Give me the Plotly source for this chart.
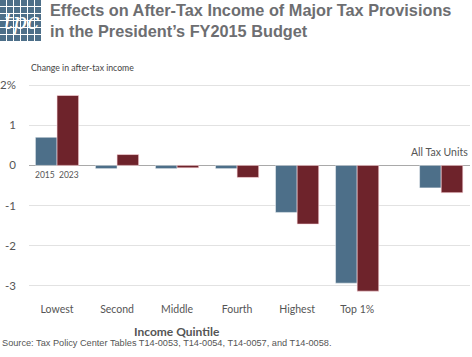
import plotly.graph_objects as go

categories = ["Lowest", "Second", "Middle", "Fourth", "Highest", "Top 1%", "All Tax Units"]
cat_pos = [0, 1, 2, 3, 4, 5, 6.4]
vals_2015 = [0.70, -0.08, -0.08, -0.08, -1.17, -2.93, -0.56]
vals_2023 = [1.74, 0.27, -0.06, -0.30, -1.46, -3.13, -0.68]
series_names = ["2015", "2023"]
ytick_vals = [2, 1, 0, -1, -2, -3]
ytick_text = ["2%", "1", "0", "-1", "-2", "-3"]

BLUE = "#4d6f89"
RED = "#6e232b"
GRAY_TXT = "#555555"

fig = go.Figure()
fig.add_trace(go.Bar(x=cat_pos, y=vals_2015, name=series_names[0], marker_color=BLUE,
                     marker_line=dict(color="rgba(255,255,255,0.45)", width=1)))
fig.add_trace(go.Bar(x=cat_pos, y=vals_2023, name=series_names[1], marker_color=RED,
                     marker_line=dict(color="rgba(255,220,225,0.6)", width=1)))

fig.update_layout(
    width=472, height=357,
    margin=dict(l=29, r=2, t=77, b=59, autoexpand=False),
    paper_bgcolor="white", plot_bgcolor="white",
    barmode="group", bargap=0.28, bargroupgap=0,
    showlegend=False,
    font=dict(family="Lato", color=GRAY_TXT, size=11),
)
fig.update_xaxes(range=[-0.467, 6.88], tickvals=cat_pos[:6], ticktext=categories[:6],
                 showgrid=False, zeroline=False, showline=False, ticks="", automargin=False,
                 ticklabelstandoff=3,
                 tickfont=dict(family="Lato", size=10.5, color=GRAY_TXT))
fig.update_yaxes(range=[-3.3, 2.2], tickvals=ytick_vals, ticktext=ytick_text,
                 showgrid=True, gridcolor="#e2e2e2", gridwidth=1,
                 zeroline=True, zerolinecolor="#a9a9a9", zerolinewidth=1,
                 showline=False, ticks="", ticklabelstandoff=12, automargin=False,
                 tickfont=dict(family="Lato", size=11.5, color=GRAY_TXT))

# Year labels under the first group
for i, nm in enumerate(series_names):
    fig.add_annotation(x=cat_pos[0] + (-0.18 if i == 0 else 0.18), y=0, text=nm,
                       showarrow=False, yanchor="top", yshift=-3, xshift=(-1 if i == 0 else 1),
                       font=dict(family="Lato", size=8.5, color=GRAY_TXT))

# All Tax Units label
fig.add_annotation(xref="paper", x=1, y=0, text=categories[6], showarrow=False,
                   xanchor="right", yanchor="bottom", yshift=5,
                   font=dict(family="Lato", size=10.5, color=GRAY_TXT))

# Axis titles
fig.add_annotation(xref="paper", yref="paper", x=0, y=1, xanchor="left", yanchor="bottom",
                   text="Change in after-tax income", showarrow=False, yshift=2,
                   font=dict(family="Lato", size=8.7, color="#444444"))
fig.add_annotation(xref="x", yref="paper", x=2, y=0, text="<b>Income Quintile</b>",
                   showarrow=False, yanchor="middle", yshift=-33,
                   font=dict(family="Lato", size=12, color=GRAY_TXT))

# Source
fig.add_annotation(xref="paper", yref="paper", x=-29/441, y=0, xanchor="left", yanchor="middle",
                   yshift=-45, showarrow=False,
                   text="Source: Tax Policy Center Tables T14-0053, T14-0054, T14-0057, and T14-0058.",
                   font=dict(family="Liberation Sans", size=9.2, color="#555555"))

# Title
fig.add_annotation(xref="paper", yref="paper", x=19/441, y=1, xanchor="left", yanchor="bottom",
                   yshift=35, showarrow=False, align="left",
                   text="<b>Effects on After-Tax Income of Major Tax Provisions<br>in the President\u2019s FY2015 Budget</b>",
                   font=dict(family="Liberation Sans", size=16.3, color="#6d6e71"))

# Logo (grid of squares with tpc)
x0p, y0p, size = 0, 0, 42
def px2paper_x(px):
    return (px - 29) / 441
def px2paper_y(py):
    return (357 - 59 - py) / 221
n = 6
cell = size / n
gap = 1
for r in range(n):
    for c in range(n):
        fig.add_shape(type="rect", xref="paper", yref="paper", layer="below",
                      x0=px2paper_x(x0p + c * cell), x1=px2paper_x(x0p + (c + 1) * cell - gap),
                      y0=px2paper_y(y0p + (r + 1) * cell - gap), y1=px2paper_y(y0p + r * cell),
                      fillcolor=BLUE, line=dict(width=0))
fig.add_annotation(xref="paper", yref="paper", x=px2paper_x(x0p + size / 2),
                   y=px2paper_y(y0p + size / 2), text="<i>tpc</i>", showarrow=False,
                   xanchor="center", yanchor="middle",
                   font=dict(family="DejaVu Serif", size=22, color="white"))

fig.write_html("out.html", config={"displayModeBar": False},
               post_script="document.body.style.margin='0';")
